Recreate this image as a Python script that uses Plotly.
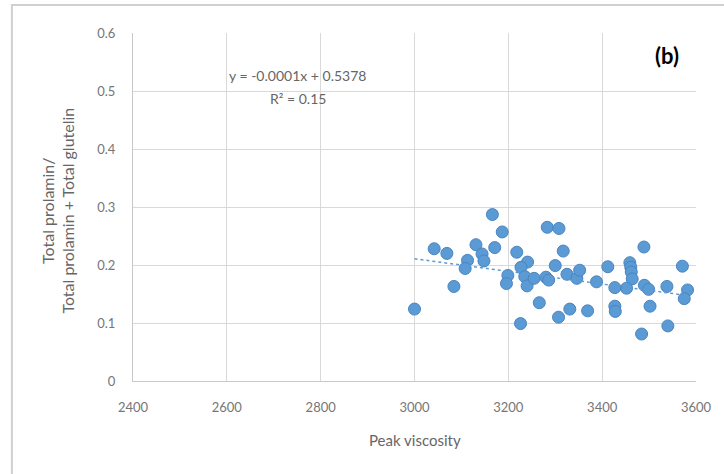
import plotly.graph_objects as go

# Peak viscosity vs. prolamin ratio
peak_viscosity = [3166, 3187, 3042, 3069, 3131, 3171, 3113, 3108, 3144, 3148,
                  3084, 3000, 3218, 3283, 3308, 3317, 3241, 3227, 3199, 3196,
                  3235, 3240, 3255, 3280, 3286, 3300, 3325, 3346, 3352, 3266,
                  3226, 3307, 3331, 3369, 3388, 3412, 3459, 3461, 3462, 3464,
                  3452, 3427, 3427, 3428, 3489, 3490, 3499, 3502, 3538, 3571,
                  3582, 3575, 3540, 3484]
prolamin_ratio = [0.287, 0.257, 0.228, 0.220, 0.235, 0.230, 0.208, 0.194, 0.219, 0.207,
                  0.163, 0.124, 0.222, 0.265, 0.263, 0.224, 0.205, 0.196, 0.182, 0.168,
                  0.180, 0.164, 0.177, 0.179, 0.174, 0.199, 0.184, 0.177, 0.191, 0.135,
                  0.099, 0.110, 0.124, 0.121, 0.171, 0.197, 0.204, 0.196, 0.188, 0.176,
                  0.160, 0.161, 0.129, 0.120, 0.231, 0.165, 0.158, 0.129, 0.163, 0.198,
                  0.157, 0.142, 0.095, 0.081]

# Linear trendline
trend_slope = -0.000109
trend_intercept = 0.5378
r_squared = 0.15

x_ticks = [2400, 2600, 2800, 3000, 3200, 3400, 3600]
y_ticks = [0, 0.1, 0.2, 0.3, 0.4, 0.5, 0.6]

FONT = "Lato, Open Sans, sans-serif"
TICK_GREY = "#767676"
TITLE_GREY = "#666666"
BLUE = "#5B9BD5"

fig = go.Figure()

fig.add_trace(go.Scatter(
    x=peak_viscosity, y=prolamin_ratio, mode="markers",
    marker=dict(size=12, color=BLUE, line=dict(width=1, color="#4A84BE")),
    showlegend=False, hoverinfo="x+y",
))

x_lo, x_hi = min(peak_viscosity), max(peak_viscosity)
fig.add_trace(go.Scatter(
    x=[x_lo, x_hi],
    y=[trend_slope * x_lo + trend_intercept, trend_slope * x_hi + trend_intercept],
    mode="lines", line=dict(color="#5B9BD5", width=1.5, dash="dot"),
    showlegend=False, hoverinfo="skip",
))

eq_line = f"y = {trend_slope:.4f}x + {trend_intercept:.4f}"
r2_line = f"R² = {r_squared:.2f}"

axis_common = dict(
    showgrid=True, gridcolor="#d9d9d9", gridwidth=1,
    showline=True, linecolor="#c8c8c8", linewidth=1,
    zeroline=False, ticks="outside", ticklen=14, tickcolor="rgba(0,0,0,0)",
    tickfont=dict(family=FONT, size=13, color=TICK_GREY),
)

fig.update_layout(
    width=724, height=474,
    margin=dict(l=132.5, r=22, t=33, b=93),
    paper_bgcolor="white", plot_bgcolor="white",
    font=dict(family=FONT, color=TITLE_GREY, size=12),
    xaxis=dict(range=[2400, 3600], tickvals=x_ticks, **axis_common),
    yaxis=dict(range=[0, 0.6], tickvals=y_ticks, **axis_common),
    shapes=[dict(
        type="rect", xref="paper", yref="paper",
        x0=(10 - 132.5) / 569.5, x1=1.2, y0=-0.5, y1=1 + 28 / 348,
        line=dict(color="#d0d0d0", width=2), layer="below",
    )],
    annotations=[
        dict(text=eq_line, x=2751, y=0.527, xref="x", yref="y",
             showarrow=False, font=dict(family=FONT, size=14, color=TITLE_GREY)),
        dict(text=r2_line, x=2751, y=0.487, xref="x", yref="y",
             showarrow=False, font=dict(family=FONT, size=14, color=TITLE_GREY)),
        dict(text="<b>(b)</b>", x=3539, y=0.561, xref="x", yref="y",
             showarrow=False, font=dict(family=FONT, size=22, color="black")),
        dict(text="Peak viscosity", x=0.5, y=-0.17, xref="paper", yref="paper",
             showarrow=False, yanchor="middle",
             font=dict(family=FONT, size=15, color=TITLE_GREY)),
        dict(text="Total prolamin/<br>Total prolamin + Total glutelin",
             x=-0.133, y=0.49, xref="paper", yref="paper", textangle=-90,
             showarrow=False, xanchor="center", yanchor="middle",
             font=dict(family=FONT, size=16, color=TITLE_GREY)),
    ],
)

fig.write_html("out.html")
